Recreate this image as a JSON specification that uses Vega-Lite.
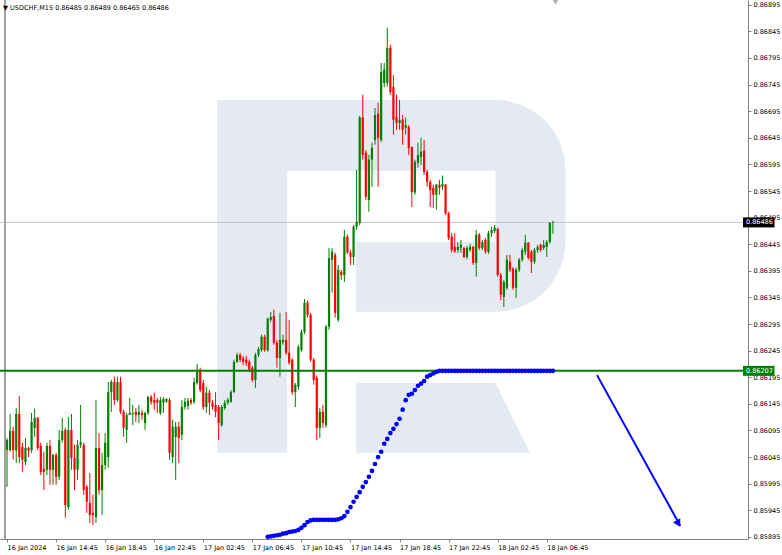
{
"$schema":"https://vega.github.io/schema/vega-lite/v6.json",
"width":748,"height":539,
"autosize":{"type":"none"},
"padding":{"left":0,"top":0,"right":34,"bottom":16},
"background":"#ffffff",
"config":{"view":{"stroke":null},"font":"DejaVu Sans","axis":{"labelOverlap":false,"labelSeparation":0,"labelFlush":false,"labelBound":false}},
"title":{"text":"▼ USDCHF,M15  0.86485 0.86489 0.86465 0.86486","anchor":"start","orient":"top","offset":0,"dx":3,"dy":12,"fontSize":6.5,"fontWeight":"normal","color":"#000000","font":"DejaVu Sans","frame":"group"},
"datasets":{
"candles":[
{"t":"2024-01-16T10:45Z","o":0.86058,"h":0.86081,"l":0.85989,"c":0.86077},
{"t":"2024-01-16T11:00Z","o":0.86058,"h":0.86126,"l":0.86055,"c":0.86094},
{"t":"2024-01-16T11:15Z","o":0.86094,"h":0.86102,"l":0.86040,"c":0.86058},
{"t":"2024-01-16T11:30Z","o":0.86058,"h":0.86137,"l":0.86034,"c":0.86126},
{"t":"2024-01-16T11:45Z","o":0.86126,"h":0.86160,"l":0.86034,"c":0.86045},
{"t":"2024-01-16T12:00Z","o":0.86064,"h":0.86072,"l":0.86017,"c":0.86040},
{"t":"2024-01-16T12:15Z","o":0.86036,"h":0.86081,"l":0.86030,"c":0.86062},
{"t":"2024-01-16T12:30Z","o":0.86062,"h":0.86064,"l":0.86045,"c":0.86057},
{"t":"2024-01-16T12:45Z","o":0.86058,"h":0.86128,"l":0.86053,"c":0.86111},
{"t":"2024-01-16T13:00Z","o":0.86100,"h":0.86136,"l":0.86083,"c":0.86119},
{"t":"2024-01-16T13:15Z","o":0.86119,"h":0.86120,"l":0.86058,"c":0.86062},
{"t":"2024-01-16T13:30Z","o":0.86066,"h":0.86072,"l":0.86011,"c":0.86017},
{"t":"2024-01-16T13:45Z","o":0.86023,"h":0.86055,"l":0.85983,"c":0.86017},
{"t":"2024-01-16T14:00Z","o":0.86021,"h":0.86072,"l":0.86011,"c":0.86066},
{"t":"2024-01-16T14:15Z","o":0.86066,"h":0.86077,"l":0.85993,"c":0.86021},
{"t":"2024-01-16T14:30Z","o":0.86021,"h":0.86051,"l":0.85993,"c":0.86049},
{"t":"2024-01-16T14:45Z","o":0.86049,"h":0.86053,"l":0.85993,"c":0.86008},
{"t":"2024-01-16T15:00Z","o":0.86008,"h":0.86096,"l":0.86002,"c":0.86077},
{"t":"2024-01-16T15:15Z","o":0.86077,"h":0.86119,"l":0.86072,"c":0.86094},
{"t":"2024-01-16T15:30Z","o":0.86096,"h":0.86100,"l":0.85931,"c":0.85955},
{"t":"2024-01-16T15:45Z","o":0.85951,"h":0.86120,"l":0.85946,"c":0.86096},
{"t":"2024-01-16T16:00Z","o":0.86096,"h":0.86126,"l":0.86021,"c":0.86043},
{"t":"2024-01-16T16:15Z","o":0.86043,"h":0.86068,"l":0.85983,"c":0.86021},
{"t":"2024-01-16T16:30Z","o":0.86021,"h":0.86077,"l":0.86002,"c":0.86068},
{"t":"2024-01-16T16:45Z","o":0.86068,"h":0.86143,"l":0.86062,"c":0.86073},
{"t":"2024-01-16T17:00Z","o":0.86068,"h":0.86072,"l":0.85974,"c":0.85983},
{"t":"2024-01-16T17:15Z","o":0.85989,"h":0.85993,"l":0.85940,"c":0.85961},
{"t":"2024-01-16T17:30Z","o":0.85959,"h":0.86015,"l":0.85921,"c":0.85936},
{"t":"2024-01-16T17:45Z","o":0.85940,"h":0.85974,"l":0.85917,"c":0.85936},
{"t":"2024-01-16T18:00Z","o":0.85932,"h":0.86152,"l":0.85921,"c":0.86062},
{"t":"2024-01-16T18:15Z","o":0.86062,"h":0.86090,"l":0.85974,"c":0.85983},
{"t":"2024-01-16T18:30Z","o":0.85983,"h":0.86053,"l":0.85936,"c":0.86030},
{"t":"2024-01-16T18:45Z","o":0.86030,"h":0.86090,"l":0.86021,"c":0.86072},
{"t":"2024-01-16T19:00Z","o":0.86045,"h":0.86186,"l":0.86025,"c":0.86167},
{"t":"2024-01-16T19:15Z","o":0.86167,"h":0.86190,"l":0.86130,"c":0.86186},
{"t":"2024-01-16T19:30Z","o":0.86186,"h":0.86196,"l":0.86143,"c":0.86152},
{"t":"2024-01-16T19:45Z","o":0.86152,"h":0.86196,"l":0.86149,"c":0.86186},
{"t":"2024-01-16T20:00Z","o":0.86186,"h":0.86196,"l":0.86126,"c":0.86130},
{"t":"2024-01-16T20:15Z","o":0.86130,"h":0.86134,"l":0.86083,"c":0.86100},
{"t":"2024-01-16T20:30Z","o":0.86096,"h":0.86128,"l":0.86072,"c":0.86124},
{"t":"2024-01-16T20:45Z","o":0.86124,"h":0.86156,"l":0.86124,"c":0.86128},
{"t":"2024-01-16T21:00Z","o":0.86126,"h":0.86143,"l":0.86105,"c":0.86128},
{"t":"2024-01-16T21:15Z","o":0.86130,"h":0.86137,"l":0.86111,"c":0.86124},
{"t":"2024-01-16T21:30Z","o":0.86124,"h":0.86143,"l":0.86109,"c":0.86130},
{"t":"2024-01-16T21:45Z","o":0.86128,"h":0.86134,"l":0.86115,"c":0.86124},
{"t":"2024-01-16T22:00Z","o":0.86109,"h":0.86130,"l":0.86096,"c":0.86128},
{"t":"2024-01-16T22:15Z","o":0.86128,"h":0.86160,"l":0.86124,"c":0.86158},
{"t":"2024-01-16T22:30Z","o":0.86158,"h":0.86162,"l":0.86143,"c":0.86149},
{"t":"2024-01-16T22:45Z","o":0.86152,"h":0.86166,"l":0.86134,"c":0.86147},
{"t":"2024-01-16T23:00Z","o":0.86152,"h":0.86156,"l":0.86128,"c":0.86147},
{"t":"2024-01-16T23:15Z","o":0.86128,"h":0.86158,"l":0.86124,"c":0.86152},
{"t":"2024-01-16T23:30Z","o":0.86147,"h":0.86158,"l":0.86128,"c":0.86154},
{"t":"2024-01-16T23:45Z","o":0.86149,"h":0.86156,"l":0.86147,"c":0.86154},
{"t":"2024-01-17T00:00Z","o":0.86152,"h":0.86156,"l":0.86040,"c":0.86053},
{"t":"2024-01-17T00:15Z","o":0.86045,"h":0.86115,"l":0.86034,"c":0.86102},
{"t":"2024-01-17T00:30Z","o":0.86083,"h":0.86111,"l":0.86002,"c":0.86102},
{"t":"2024-01-17T00:45Z","o":0.86102,"h":0.86111,"l":0.86034,"c":0.86081},
{"t":"2024-01-17T01:00Z","o":0.86087,"h":0.86152,"l":0.86077,"c":0.86139},
{"t":"2024-01-17T01:15Z","o":0.86139,"h":0.86156,"l":0.86134,"c":0.86149},
{"t":"2024-01-17T01:30Z","o":0.86141,"h":0.86156,"l":0.86134,"c":0.86151},
{"t":"2024-01-17T01:45Z","o":0.86152,"h":0.86156,"l":0.86143,"c":0.86147},
{"t":"2024-01-17T02:00Z","o":0.86149,"h":0.86194,"l":0.86145,"c":0.86186},
{"t":"2024-01-17T02:15Z","o":0.86184,"h":0.86220,"l":0.86181,"c":0.86209},
{"t":"2024-01-17T02:30Z","o":0.86209,"h":0.86213,"l":0.86167,"c":0.86171},
{"t":"2024-01-17T02:45Z","o":0.86184,"h":0.86190,"l":0.86134,"c":0.86139},
{"t":"2024-01-17T03:00Z","o":0.86139,"h":0.86177,"l":0.86128,"c":0.86166},
{"t":"2024-01-17T03:15Z","o":0.86166,"h":0.86171,"l":0.86124,"c":0.86147},
{"t":"2024-01-17T03:30Z","o":0.86147,"h":0.86152,"l":0.86134,"c":0.86139},
{"t":"2024-01-17T03:45Z","o":0.86143,"h":0.86167,"l":0.86120,"c":0.86130},
{"t":"2024-01-17T04:00Z","o":0.86139,"h":0.86143,"l":0.86077,"c":0.86109},
{"t":"2024-01-17T04:15Z","o":0.86105,"h":0.86143,"l":0.86102,"c":0.86139},
{"t":"2024-01-17T04:30Z","o":0.86137,"h":0.86152,"l":0.86134,"c":0.86147},
{"t":"2024-01-17T04:45Z","o":0.86147,"h":0.86156,"l":0.86143,"c":0.86152},
{"t":"2024-01-17T05:00Z","o":0.86149,"h":0.86171,"l":0.86147,"c":0.86167},
{"t":"2024-01-17T05:15Z","o":0.86167,"h":0.86228,"l":0.86166,"c":0.86224},
{"t":"2024-01-17T05:30Z","o":0.86224,"h":0.86241,"l":0.86222,"c":0.86237},
{"t":"2024-01-17T05:45Z","o":0.86237,"h":0.86241,"l":0.86224,"c":0.86228},
{"t":"2024-01-17T06:00Z","o":0.86231,"h":0.86235,"l":0.86218,"c":0.86224},
{"t":"2024-01-17T06:15Z","o":0.86228,"h":0.86235,"l":0.86216,"c":0.86222},
{"t":"2024-01-17T06:30Z","o":0.86224,"h":0.86228,"l":0.86205,"c":0.86209},
{"t":"2024-01-17T06:45Z","o":0.86213,"h":0.86216,"l":0.86186,"c":0.86190},
{"t":"2024-01-17T07:00Z","o":0.86190,"h":0.86241,"l":0.86175,"c":0.86237},
{"t":"2024-01-17T07:15Z","o":0.86237,"h":0.86252,"l":0.86233,"c":0.86248},
{"t":"2024-01-17T07:30Z","o":0.86246,"h":0.86275,"l":0.86243,"c":0.86271},
{"t":"2024-01-17T07:45Z","o":0.86271,"h":0.86275,"l":0.86243,"c":0.86246},
{"t":"2024-01-17T08:00Z","o":0.86246,"h":0.86307,"l":0.86243,"c":0.86305},
{"t":"2024-01-17T08:15Z","o":0.86303,"h":0.86318,"l":0.86299,"c":0.86308},
{"t":"2024-01-17T08:30Z","o":0.86310,"h":0.86322,"l":0.86256,"c":0.86260},
{"t":"2024-01-17T08:45Z","o":0.86260,"h":0.86265,"l":0.86213,"c":0.86231},
{"t":"2024-01-17T09:00Z","o":0.86231,"h":0.86316,"l":0.86196,"c":0.86265},
{"t":"2024-01-17T09:15Z","o":0.86261,"h":0.86275,"l":0.86256,"c":0.86265},
{"t":"2024-01-17T09:30Z","o":0.86265,"h":0.86318,"l":0.86237,"c":0.86241},
{"t":"2024-01-17T09:45Z","o":0.86241,"h":0.86303,"l":0.86218,"c":0.86222},
{"t":"2024-01-17T10:00Z","o":0.86228,"h":0.86231,"l":0.86162,"c":0.86167},
{"t":"2024-01-17T10:15Z","o":0.86167,"h":0.86184,"l":0.86139,"c":0.86181},
{"t":"2024-01-17T10:30Z","o":0.86177,"h":0.86256,"l":0.86171,"c":0.86252},
{"t":"2024-01-17T10:45Z","o":0.86246,"h":0.86284,"l":0.86243,"c":0.86280},
{"t":"2024-01-17T11:00Z","o":0.86280,"h":0.86342,"l":0.86276,"c":0.86335},
{"t":"2024-01-17T11:15Z","o":0.86335,"h":0.86339,"l":0.86307,"c":0.86312},
{"t":"2024-01-17T11:30Z","o":0.86312,"h":0.86316,"l":0.86224,"c":0.86228},
{"t":"2024-01-17T11:45Z","o":0.86228,"h":0.86231,"l":0.86181,"c":0.86190},
{"t":"2024-01-17T12:00Z","o":0.86194,"h":0.86198,"l":0.86077,"c":0.86100},
{"t":"2024-01-17T12:15Z","o":0.86100,"h":0.86137,"l":0.86081,"c":0.86130},
{"t":"2024-01-17T12:30Z","o":0.86130,"h":0.86143,"l":0.86100,"c":0.86109},
{"t":"2024-01-17T12:45Z","o":0.86105,"h":0.86293,"l":0.86100,"c":0.86290},
{"t":"2024-01-17T13:00Z","o":0.86290,"h":0.86438,"l":0.86284,"c":0.86419},
{"t":"2024-01-17T13:15Z","o":0.86416,"h":0.86438,"l":0.86354,"c":0.86431},
{"t":"2024-01-17T13:30Z","o":0.86425,"h":0.86429,"l":0.86307,"c":0.86316},
{"t":"2024-01-17T13:45Z","o":0.86303,"h":0.86406,"l":0.86299,"c":0.86397},
{"t":"2024-01-17T14:00Z","o":0.86393,"h":0.86397,"l":0.86378,"c":0.86387},
{"t":"2024-01-17T14:15Z","o":0.86387,"h":0.86472,"l":0.86374,"c":0.86459},
{"t":"2024-01-17T14:30Z","o":0.86459,"h":0.86463,"l":0.86427,"c":0.86429},
{"t":"2024-01-17T14:45Z","o":0.86429,"h":0.86434,"l":0.86406,"c":0.86421},
{"t":"2024-01-17T15:00Z","o":0.86421,"h":0.86481,"l":0.86406,"c":0.86478},
{"t":"2024-01-17T15:15Z","o":0.86478,"h":0.86585,"l":0.86472,"c":0.86487},
{"t":"2024-01-17T15:30Z","o":0.86485,"h":0.86686,"l":0.86481,"c":0.86683},
{"t":"2024-01-17T15:45Z","o":0.86683,"h":0.86726,"l":0.86604,"c":0.86613},
{"t":"2024-01-17T16:00Z","o":0.86617,"h":0.86622,"l":0.86528,"c":0.86534},
{"t":"2024-01-17T16:15Z","o":0.86528,"h":0.86613,"l":0.86506,"c":0.86604},
{"t":"2024-01-17T16:30Z","o":0.86604,"h":0.86636,"l":0.86553,"c":0.86626},
{"t":"2024-01-17T16:45Z","o":0.86641,"h":0.86701,"l":0.86632,"c":0.86688},
{"t":"2024-01-17T17:00Z","o":0.86690,"h":0.86711,"l":0.86553,"c":0.86645},
{"t":"2024-01-17T17:15Z","o":0.86641,"h":0.86786,"l":0.86637,"c":0.86769},
{"t":"2024-01-17T17:30Z","o":0.86748,"h":0.86786,"l":0.86740,"c":0.86773},
{"t":"2024-01-17T17:45Z","o":0.86748,"h":0.86852,"l":0.86741,"c":0.86814},
{"t":"2024-01-17T18:00Z","o":0.86814,"h":0.86820,"l":0.86726,"c":0.86731},
{"t":"2024-01-17T18:15Z","o":0.86741,"h":0.86763,"l":0.86651,"c":0.86679},
{"t":"2024-01-17T18:30Z","o":0.86684,"h":0.86726,"l":0.86660,"c":0.86673},
{"t":"2024-01-17T18:45Z","o":0.86673,"h":0.86716,"l":0.86660,"c":0.86679},
{"t":"2024-01-17T19:00Z","o":0.86679,"h":0.86688,"l":0.86632,"c":0.86660},
{"t":"2024-01-17T19:15Z","o":0.86664,"h":0.86683,"l":0.86651,"c":0.86669},
{"t":"2024-01-17T19:30Z","o":0.86666,"h":0.86669,"l":0.86613,"c":0.86626},
{"t":"2024-01-17T19:45Z","o":0.86628,"h":0.86628,"l":0.86515,"c":0.86543},
{"t":"2024-01-17T20:00Z","o":0.86542,"h":0.86604,"l":0.86538,"c":0.86600},
{"t":"2024-01-17T20:15Z","o":0.86598,"h":0.86636,"l":0.86589,"c":0.86613},
{"t":"2024-01-17T20:30Z","o":0.86609,"h":0.86645,"l":0.86594,"c":0.86619},
{"t":"2024-01-17T20:45Z","o":0.86621,"h":0.86641,"l":0.86575,"c":0.86581},
{"t":"2024-01-17T21:00Z","o":0.86581,"h":0.86585,"l":0.86553,"c":0.86562},
{"t":"2024-01-17T21:15Z","o":0.86562,"h":0.86566,"l":0.86515,"c":0.86547},
{"t":"2024-01-17T21:30Z","o":0.86551,"h":0.86557,"l":0.86513,"c":0.86538},
{"t":"2024-01-17T21:45Z","o":0.86538,"h":0.86558,"l":0.86510,"c":0.86557},
{"t":"2024-01-17T22:00Z","o":0.86557,"h":0.86566,"l":0.86538,"c":0.86551},
{"t":"2024-01-17T22:15Z","o":0.86553,"h":0.86574,"l":0.86547,"c":0.86558},
{"t":"2024-01-17T22:30Z","o":0.86557,"h":0.86558,"l":0.86500,"c":0.86503},
{"t":"2024-01-17T22:45Z","o":0.86503,"h":0.86506,"l":0.86453,"c":0.86457},
{"t":"2024-01-17T23:00Z","o":0.86459,"h":0.86466,"l":0.86429,"c":0.86434},
{"t":"2024-01-17T23:15Z","o":0.86440,"h":0.86466,"l":0.86429,"c":0.86431},
{"t":"2024-01-17T23:30Z","o":0.86434,"h":0.86449,"l":0.86429,"c":0.86440},
{"t":"2024-01-17T23:45Z","o":0.86438,"h":0.86453,"l":0.86429,"c":0.86444},
{"t":"2024-01-18T00:00Z","o":0.86438,"h":0.86440,"l":0.86419,"c":0.86421},
{"t":"2024-01-18T00:15Z","o":0.86421,"h":0.86442,"l":0.86417,"c":0.86438},
{"t":"2024-01-18T00:30Z","o":0.86434,"h":0.86446,"l":0.86431,"c":0.86440},
{"t":"2024-01-18T00:45Z","o":0.86440,"h":0.86442,"l":0.86406,"c":0.86410},
{"t":"2024-01-18T01:00Z","o":0.86410,"h":0.86472,"l":0.86384,"c":0.86463},
{"t":"2024-01-18T01:15Z","o":0.86463,"h":0.86466,"l":0.86434,"c":0.86438},
{"t":"2024-01-18T01:30Z","o":0.86438,"h":0.86453,"l":0.86434,"c":0.86449},
{"t":"2024-01-18T01:45Z","o":0.86453,"h":0.86457,"l":0.86427,"c":0.86431},
{"t":"2024-01-18T02:00Z","o":0.86431,"h":0.86470,"l":0.86427,"c":0.86466},
{"t":"2024-01-18T02:15Z","o":0.86466,"h":0.86478,"l":0.86459,"c":0.86472},
{"t":"2024-01-18T02:30Z","o":0.86470,"h":0.86481,"l":0.86466,"c":0.86476},
{"t":"2024-01-18T02:45Z","o":0.86474,"h":0.86476,"l":0.86384,"c":0.86387},
{"t":"2024-01-18T03:00Z","o":0.86387,"h":0.86391,"l":0.86340,"c":0.86350},
{"t":"2024-01-18T03:15Z","o":0.86346,"h":0.86378,"l":0.86327,"c":0.86374},
{"t":"2024-01-18T03:30Z","o":0.86363,"h":0.86425,"l":0.86359,"c":0.86416},
{"t":"2024-01-18T03:45Z","o":0.86412,"h":0.86425,"l":0.86393,"c":0.86397},
{"t":"2024-01-18T04:00Z","o":0.86399,"h":0.86402,"l":0.86359,"c":0.86363},
{"t":"2024-01-18T04:15Z","o":0.86363,"h":0.86401,"l":0.86344,"c":0.86397},
{"t":"2024-01-18T04:30Z","o":0.86397,"h":0.86419,"l":0.86393,"c":0.86416},
{"t":"2024-01-18T04:45Z","o":0.86416,"h":0.86438,"l":0.86412,"c":0.86434},
{"t":"2024-01-18T05:00Z","o":0.86431,"h":0.86463,"l":0.86425,"c":0.86448},
{"t":"2024-01-18T05:15Z","o":0.86448,"h":0.86449,"l":0.86416,"c":0.86419},
{"t":"2024-01-18T05:30Z","o":0.86431,"h":0.86434,"l":0.86391,"c":0.86412},
{"t":"2024-01-18T05:45Z","o":0.86412,"h":0.86438,"l":0.86408,"c":0.86434},
{"t":"2024-01-18T06:00Z","o":0.86434,"h":0.86444,"l":0.86429,"c":0.86440},
{"t":"2024-01-18T06:15Z","o":0.86444,"h":0.86446,"l":0.86431,"c":0.86434},
{"t":"2024-01-18T06:30Z","o":0.86438,"h":0.86453,"l":0.86434,"c":0.86444},
{"t":"2024-01-18T06:45Z","o":0.86440,"h":0.86453,"l":0.86421,"c":0.86449},
{"t":"2024-01-18T07:00Z","o":0.86449,"h":0.86486,"l":0.86446,"c":0.86485},
{"t":"2024-01-18T07:15Z","o":0.86485,"h":0.86489,"l":0.86465,"c":0.86486}
],
"dots":[
{"t":"2024-01-17T08:00Z","v":0.85895},{"t":"2024-01-17T08:15Z","v":0.85896},{"t":"2024-01-17T08:30Z","v":0.85897},{"t":"2024-01-17T08:45Z","v":0.85898},
{"t":"2024-01-17T09:00Z","v":0.85899},{"t":"2024-01-17T09:15Z","v":0.85901},{"t":"2024-01-17T09:30Z","v":0.85902},{"t":"2024-01-17T09:45Z","v":0.85904},
{"t":"2024-01-17T10:00Z","v":0.85905},{"t":"2024-01-17T10:15Z","v":0.85906},{"t":"2024-01-17T10:30Z","v":0.85908},{"t":"2024-01-17T10:45Z","v":0.85912},
{"t":"2024-01-17T11:00Z","v":0.85917},{"t":"2024-01-17T11:15Z","v":0.85923},{"t":"2024-01-17T11:30Z","v":0.85926},{"t":"2024-01-17T11:45Z","v":0.85927},
{"t":"2024-01-17T12:00Z","v":0.85927},{"t":"2024-01-17T12:15Z","v":0.85927},{"t":"2024-01-17T12:30Z","v":0.85927},{"t":"2024-01-17T12:45Z","v":0.85927},
{"t":"2024-01-17T13:00Z","v":0.85927},{"t":"2024-01-17T13:15Z","v":0.85927},{"t":"2024-01-17T13:30Z","v":0.85927},{"t":"2024-01-17T13:45Z","v":0.85928},
{"t":"2024-01-17T14:00Z","v":0.85930},{"t":"2024-01-17T14:15Z","v":0.85934},{"t":"2024-01-17T14:30Z","v":0.85942},{"t":"2024-01-17T14:45Z","v":0.85951},
{"t":"2024-01-17T15:00Z","v":0.85961},{"t":"2024-01-17T15:15Z","v":0.85970},{"t":"2024-01-17T15:30Z","v":0.85979},{"t":"2024-01-17T15:45Z","v":0.85989},
{"t":"2024-01-17T16:00Z","v":0.85998},{"t":"2024-01-17T16:15Z","v":0.86008},{"t":"2024-01-17T16:30Z","v":0.86019},{"t":"2024-01-17T16:45Z","v":0.86032},
{"t":"2024-01-17T17:00Z","v":0.86045},{"t":"2024-01-17T17:15Z","v":0.86055},{"t":"2024-01-17T17:30Z","v":0.86070},{"t":"2024-01-17T17:45Z","v":0.86079},
{"t":"2024-01-17T18:00Z","v":0.86090},{"t":"2024-01-17T18:15Z","v":0.86098},{"t":"2024-01-17T18:30Z","v":0.86107},{"t":"2024-01-17T18:45Z","v":0.86117},
{"t":"2024-01-17T19:00Z","v":0.86134},{"t":"2024-01-17T19:15Z","v":0.86152},{"t":"2024-01-17T19:30Z","v":0.86162},{"t":"2024-01-17T19:45Z","v":0.86164},
{"t":"2024-01-17T20:00Z","v":0.86171},{"t":"2024-01-17T20:15Z","v":0.86179},{"t":"2024-01-17T20:30Z","v":0.86183},{"t":"2024-01-17T20:45Z","v":0.86188},
{"t":"2024-01-17T21:00Z","v":0.86196},{"t":"2024-01-17T21:15Z","v":0.86199},{"t":"2024-01-17T21:30Z","v":0.86202},{"t":"2024-01-17T21:45Z","v":0.86205},
{"t":"2024-01-17T22:00Z","v":0.86207},{"t":"2024-01-17T22:15Z","v":0.86207},{"t":"2024-01-17T22:30Z","v":0.86207},{"t":"2024-01-17T22:45Z","v":0.86207},
{"t":"2024-01-17T23:00Z","v":0.86207},{"t":"2024-01-17T23:15Z","v":0.86207},{"t":"2024-01-17T23:30Z","v":0.86207},{"t":"2024-01-17T23:45Z","v":0.86207},
{"t":"2024-01-18T00:00Z","v":0.86207},{"t":"2024-01-18T00:15Z","v":0.86207},{"t":"2024-01-18T00:30Z","v":0.86207},{"t":"2024-01-18T00:45Z","v":0.86207},
{"t":"2024-01-18T01:00Z","v":0.86207},{"t":"2024-01-18T01:15Z","v":0.86207},{"t":"2024-01-18T01:30Z","v":0.86207},{"t":"2024-01-18T01:45Z","v":0.86207},
{"t":"2024-01-18T02:00Z","v":0.86207},{"t":"2024-01-18T02:15Z","v":0.86207},{"t":"2024-01-18T02:30Z","v":0.86207},{"t":"2024-01-18T02:45Z","v":0.86207},
{"t":"2024-01-18T03:00Z","v":0.86207},{"t":"2024-01-18T03:15Z","v":0.86207},{"t":"2024-01-18T03:30Z","v":0.86207},{"t":"2024-01-18T03:45Z","v":0.86207},
{"t":"2024-01-18T04:00Z","v":0.86207},{"t":"2024-01-18T04:15Z","v":0.86207},{"t":"2024-01-18T04:30Z","v":0.86207},{"t":"2024-01-18T04:45Z","v":0.86207},
{"t":"2024-01-18T05:00Z","v":0.86207},{"t":"2024-01-18T05:15Z","v":0.86207},{"t":"2024-01-18T05:30Z","v":0.86207},{"t":"2024-01-18T05:45Z","v":0.86207},
{"t":"2024-01-18T06:00Z","v":0.86207},{"t":"2024-01-18T06:15Z","v":0.86207},{"t":"2024-01-18T06:30Z","v":0.86207},{"t":"2024-01-18T06:45Z","v":0.86207},
{"t":"2024-01-18T07:00Z","v":0.86207},{"t":"2024-01-18T07:15Z","v":0.86207}
]
},
"layer":[
{"data":{"values":[{"t":"2024-01-17T03:53Z","t2":"2024-01-18T08:16Z","p":0.86716,"p2":0.86318}]},
 "mark":{"type":"rect","color":"#e4e9f2","cornerRadiusTopRight":70,"cornerRadiusBottomRight":70},
 "encoding":{
  "x":{"field":"t","type":"temporal","title":null,
   "scale":{"type":"utc","nice":false,"domain":[{"year":2024,"month":1,"date":16,"hours":10,"minutes":35,"utc":true},{"year":2024,"month":1,"date":18,"hours":22,"minutes":45,"utc":true}]},
   "axis":{"values":[
     {"year":2024,"month":1,"date":16,"hours":10,"minutes":45,"utc":true},
     {"year":2024,"month":1,"date":16,"hours":14,"minutes":45,"utc":true},
     {"year":2024,"month":1,"date":16,"hours":18,"minutes":45,"utc":true},
     {"year":2024,"month":1,"date":16,"hours":22,"minutes":45,"utc":true},
     {"year":2024,"month":1,"date":17,"hours":2,"minutes":45,"utc":true},
     {"year":2024,"month":1,"date":17,"hours":6,"minutes":45,"utc":true},
     {"year":2024,"month":1,"date":17,"hours":10,"minutes":45,"utc":true},
     {"year":2024,"month":1,"date":17,"hours":14,"minutes":45,"utc":true},
     {"year":2024,"month":1,"date":17,"hours":18,"minutes":45,"utc":true},
     {"year":2024,"month":1,"date":17,"hours":22,"minutes":45,"utc":true},
     {"year":2024,"month":1,"date":18,"hours":2,"minutes":45,"utc":true},
     {"year":2024,"month":1,"date":18,"hours":6,"minutes":45,"utc":true}],
    "labelExpr":"(utcdate(datum.value) == 16 && utchours(datum.value) == 10) ? '16 Jan 2024' : utcFormat(datum.value, '%d %b %H:%M')",
    "labelAlign":"left","labelBaseline":"top","labelPadding":2,"tickSize":3,"labelFont":"DejaVu Sans","labelFontSize":6.5,"labelColor":"#000000",
    "domainColor":"#808080","tickColor":"#808080","grid":false,"labelOverlap":false,"labelFlush":false,"labelBound":false,"zindex":0}},
  "x2":{"field":"t2"},
  "y":{"field":"p","type":"quantitative","title":null,
   "scale":{"domain":[0.85891,0.86904],"zero":false,"nice":false},
   "axis":{"orient":"right","values":[0.85895,0.85945,0.85995,0.86045,0.86095,0.86145,0.86195,0.86245,0.86295,0.86345,0.86395,0.86445,0.86495,0.86545,0.86595,0.86645,0.86695,0.86745,0.86795,0.86845,0.86895],
    "tickCount":21,"format":".5f","labelAlign":"left","labelBaseline":"middle","labelPadding":2,"tickSize":3,"labelFont":"DejaVu Sans","labelFontSize":6.5,"labelColor":"#000000",
    "domainColor":"#808080","tickColor":"#808080","grid":false,"labelOverlap":false,"labelSeparation":0,"labelFlush":false,"labelBound":false,"zindex":0}},
  "y2":{"field":"p2"}}},
{"data":{"values":[{"t":"2024-01-17T03:53Z","t2":"2024-01-17T09:35Z","p":0.86330,"p2":0.86053}]},
 "mark":{"type":"rect","color":"#e4e9f2"},
 "encoding":{"x":{"field":"t","type":"temporal","title":null},"x2":{"field":"t2"},"y":{"field":"p","type":"quantitative","title":null},"y2":{"field":"p2"}}},
{"data":{"values":[{"t":"2024-01-17T09:35Z","t2":"2024-01-18T02:34Z","p":0.86583,"p2":0.86449},{"t":"2024-01-17T09:35Z","t2":"2024-01-17T15:13Z","p":0.86455,"p2":0.86310}]},
 "mark":{"type":"rect","color":"#ffffff"},
 "encoding":{"x":{"field":"t","type":"temporal","title":null},"x2":{"field":"t2"},"y":{"field":"p","type":"quantitative","title":null},"y2":{"field":"p2"}}},
{"data":{"values":[{"t":"2024-01-17T15:13Z","p":0.86184,"p2":0.86053},{"t":"2024-01-18T02:34Z","p":0.86184,"p2":0.86053},{"t":"2024-01-18T05:23Z","p":0.86053,"p2":0.86053}]},
 "mark":{"type":"area","color":"#e4e9f2","interpolate":"linear"},
 "encoding":{"x":{"field":"t","type":"temporal","title":null},"y":{"field":"p","type":"quantitative","title":null},"y2":{"field":"p2"}}},
{"data":{"values":[{}]},
 "mark":{"type":"rule","color":"#a0a0a0","strokeWidth":2},
 "encoding":{"x":{"datum":{"year":2024,"month":1,"date":16,"hours":10,"minutes":35,"utc":true},"type":"temporal"}}},
{"data":{"values":[{"v":0.86486}]},
 "mark":{"type":"rule","color":"#c4c4c4","strokeWidth":1},
 "encoding":{"y":{"field":"v","type":"quantitative","title":null}}},
{"data":{"name":"candles"},
 "mark":{"type":"rule","strokeWidth":1},
 "encoding":{"x":{"field":"t","type":"temporal","title":null},"y":{"field":"h","type":"quantitative","title":null},"y2":{"field":"l"},
  "color":{"condition":{"test":"datum.c >= datum.o","value":"#008000"},"value":"#ff0000"}}},
{"data":{"name":"candles"},
 "mark":{"type":"bar","size":2.2},
 "encoding":{"x":{"field":"t","type":"temporal","title":null},"y":{"field":"o","type":"quantitative","title":null},"y2":{"field":"c"},
  "color":{"condition":{"test":"datum.c >= datum.o","value":"#008000"},"value":"#ff0000"}}},
{"data":{"values":[{"v":0.86207}]},
 "mark":{"type":"rule","color":"#008000","strokeWidth":2},
 "encoding":{"y":{"field":"v","type":"quantitative","title":null}}},
{"data":{"name":"dots"},
 "mark":{"type":"point","filled":true,"shape":"circle","size":22,"color":"#0000ff","opacity":1},
 "encoding":{"x":{"field":"t","type":"temporal","title":null},"y":{"field":"v","type":"quantitative","title":null}}},
{"data":{"values":[{"t":"2024-01-18T10:51Z","v":0.86199},{"t":"2024-01-18T17:38Z","v":0.85916}]},
 "mark":{"type":"line","color":"#0000ff","strokeWidth":2},
 "encoding":{"x":{"field":"t","type":"temporal","title":null},"y":{"field":"v","type":"quantitative","title":null}}},
{"data":{"values":[{"t":"2024-01-18T17:29Z","v":0.85920}]},
 "mark":{"type":"point","shape":"triangle-up","filled":true,"size":70,"angle":151,"color":"#0000ff","opacity":1},
 "encoding":{"x":{"field":"t","type":"temporal","title":null},"y":{"field":"v","type":"quantitative","title":null}}},
{"data":{"values":[{"t":"2024-01-18T07:28Z","v":0.86900}]},
 "mark":{"type":"point","shape":"triangle-down","filled":true,"size":40,"color":"#b4b4b4","opacity":1},
 "encoding":{"x":{"field":"t","type":"temporal","title":null},"y":{"field":"v","type":"quantitative","title":null}}},
{"data":{"values":[{"kind":"last","v":0.86486},{"kind":"level","v":0.86207}]},
 "mark":{"type":"rect","clip":false,"yOffset":-5,"y2Offset":5},
 "encoding":{"x":{"datum":{"year":2024,"month":1,"date":18,"hours":22,"minutes":45,"utc":true},"type":"temporal"},
  "x2":{"datum":{"year":2024,"month":1,"date":19,"hours":1,"minutes":19,"utc":true}},
  "y":{"field":"v","type":"quantitative","title":null},"y2":{"field":"v"},
  "color":{"field":"kind","type":"nominal","scale":{"domain":["last","level"],"range":["#000000","#008000"]},"legend":null}}},
{"data":{"values":[{"kind":"last","v":0.86486},{"kind":"level","v":0.86207}]},
 "mark":{"type":"text","clip":false,"align":"left","baseline":"middle","dx":3,"font":"DejaVu Sans","fontSize":6.5,"color":"#ffffff"},
 "encoding":{"x":{"datum":{"year":2024,"month":1,"date":18,"hours":22,"minutes":45,"utc":true},"type":"temporal"},
  "y":{"field":"v","type":"quantitative","title":null},
  "text":{"field":"v","type":"quantitative","format":".5f"}}}
]
}
